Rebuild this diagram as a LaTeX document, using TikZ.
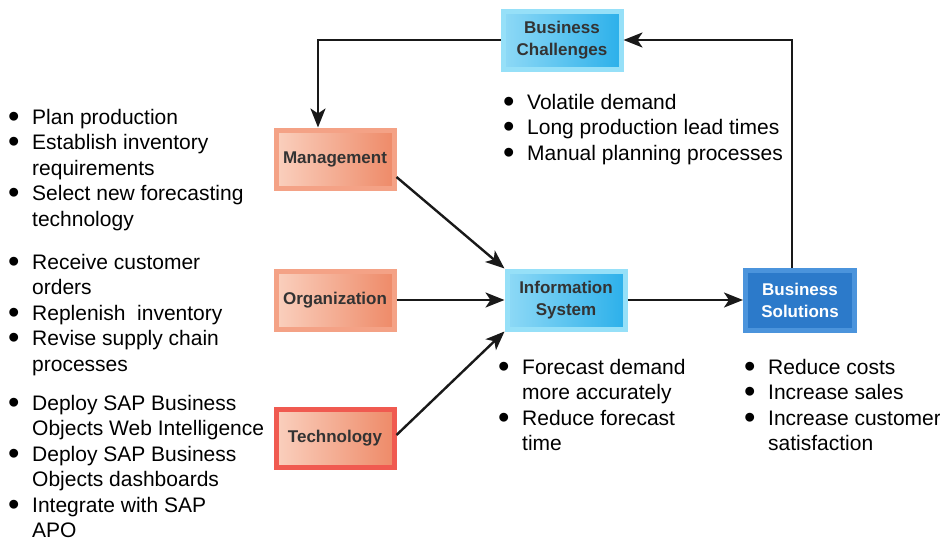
\documentclass[tikz,border=0pt]{standalone}
\usepackage{fontspec}
\setmainfont{Liberation Sans}
\usepackage{xcolor}
\usepackage{graphicx}
\usetikzlibrary{arrows.meta,positioning}
\definecolor{ChalEdge}{HTML}{96E0F8}
\definecolor{ChalLight}{HTML}{8ED9F6}
\definecolor{ChalDark}{HTML}{2CB0EA}
\definecolor{MgmtLight}{HTML}{FAD0BE}
\definecolor{MgmtEdge}{HTML}{F4A286}
\definecolor{MgmtDark}{HTML}{EE8A68}
\definecolor{TechEdge}{HTML}{F05A50}
\definecolor{SolFill}{HTML}{2C7ACA}
\definecolor{SolEdge}{HTML}{4B94DC}
\tikzset{
  box/.style={rectangle, align=center, minimum width=118pt, minimum height=58pt,
              line width=5pt, inner sep=2pt,
              font=\fontsize{17}{22}\selectfont\bfseries, text=black!80},
  challenge/.style={box, draw=ChalEdge, left color=ChalLight, right color=ChalDark},
  dimension/.style={box, draw=MgmtEdge, left color=MgmtLight, right color=MgmtDark},
  techbox/.style={box, draw=TechEdge, left color=MgmtLight, right color=MgmtDark},
  solution/.style={box, draw=SolEdge, fill=SolFill, text=white, minimum width=109pt,
                   minimum height=60pt},
  notes/.style={anchor=base west, inner sep=0pt, font=\fontsize{21}{25.5}\selectfont},
  flow/.style={-{Stealth[length=19pt,width=15pt,inset=5pt]}, line width=2.4pt, black!90}
}
\newcommand\bul{\smash{\raisebox{-3.4pt}{\scalebox{1.55}{\textbullet}}}}
\newcommand\notelist[1]{\begin{tabular}[t]{@{}p{24pt}@{}l@{}}#1\end{tabular}}

\begin{document}
\begin{tikzpicture}[x=1pt, y=-1pt]
  \useasboundingbox (0,0) rectangle (940,541);
  % boxes
  \node[challenge] (chal) at (562,40) {Business\\Challenges};
  \node[dimension] (mgmt) at (335,159) {Management};
  \node[dimension] (org) at (335,300) {Organization};
  \node[techbox] (tech) at (335,438) {Technology};
  \node[challenge] (info) at (566,300) {Information\\System};
  \node[solution] (sol) at (800,300) {Business\\Solutions};
  % bullet lists
  \node[notes] (mgmtnotes) at (8,124) {\notelist{\bul & Plan production\\
    \bul & Establish inventory\\ & requirements\\
    \bul & Select new forecasting\\ & technology}};
  \node[notes] (orgnotes) at (8,269) {\notelist{\bul & Receive customer\\ & orders\\
    \bul & Replenish\ \ inventory\\
    \bul & Revise supply chain\\ & processes}};
  \node[notes] (technotes) at (8,410) {\notelist{\bul & Deploy SAP Business\\
    & Objects Web Intelligence\\
    \bul & Deploy SAP Business\\ & Objects dashboards\\
    \bul & Integrate with SAP\\ & APO}};
  \node[notes] (chalnotes) at (503,109) {\notelist{\bul & Volatile demand\\
    \bul & Long production lead times\\
    \bul & Manual planning processes}};
  \node[notes] (infonotes) at (498,374) {\notelist{\bul & Forecast demand\\
    & more accurately\\
    \bul & Reduce forecast\\ & time}};
  \node[notes] (solnotes) at (744,374) {\notelist{\bul & Reduce costs\\
    \bul & Increase sales\\
    \bul & Increase customer\\ & satisfaction}};
  % connectors
  \draw[flow] (chal.west) -| ([xshift=-17pt]mgmt.north);
  \draw[flow] ([xshift=-8pt]sol.north) |- (chal.east);
  \draw[flow] ([yshift=-18pt]mgmt.east) -- (info.north west);
  \draw[flow] (org.east) -- (info.west);
  \draw[flow] ([yshift=3pt]tech.east) -- (info.south west);
  \draw[flow] (info.east) -- (sol.west);
\end{tikzpicture}
\end{document}
